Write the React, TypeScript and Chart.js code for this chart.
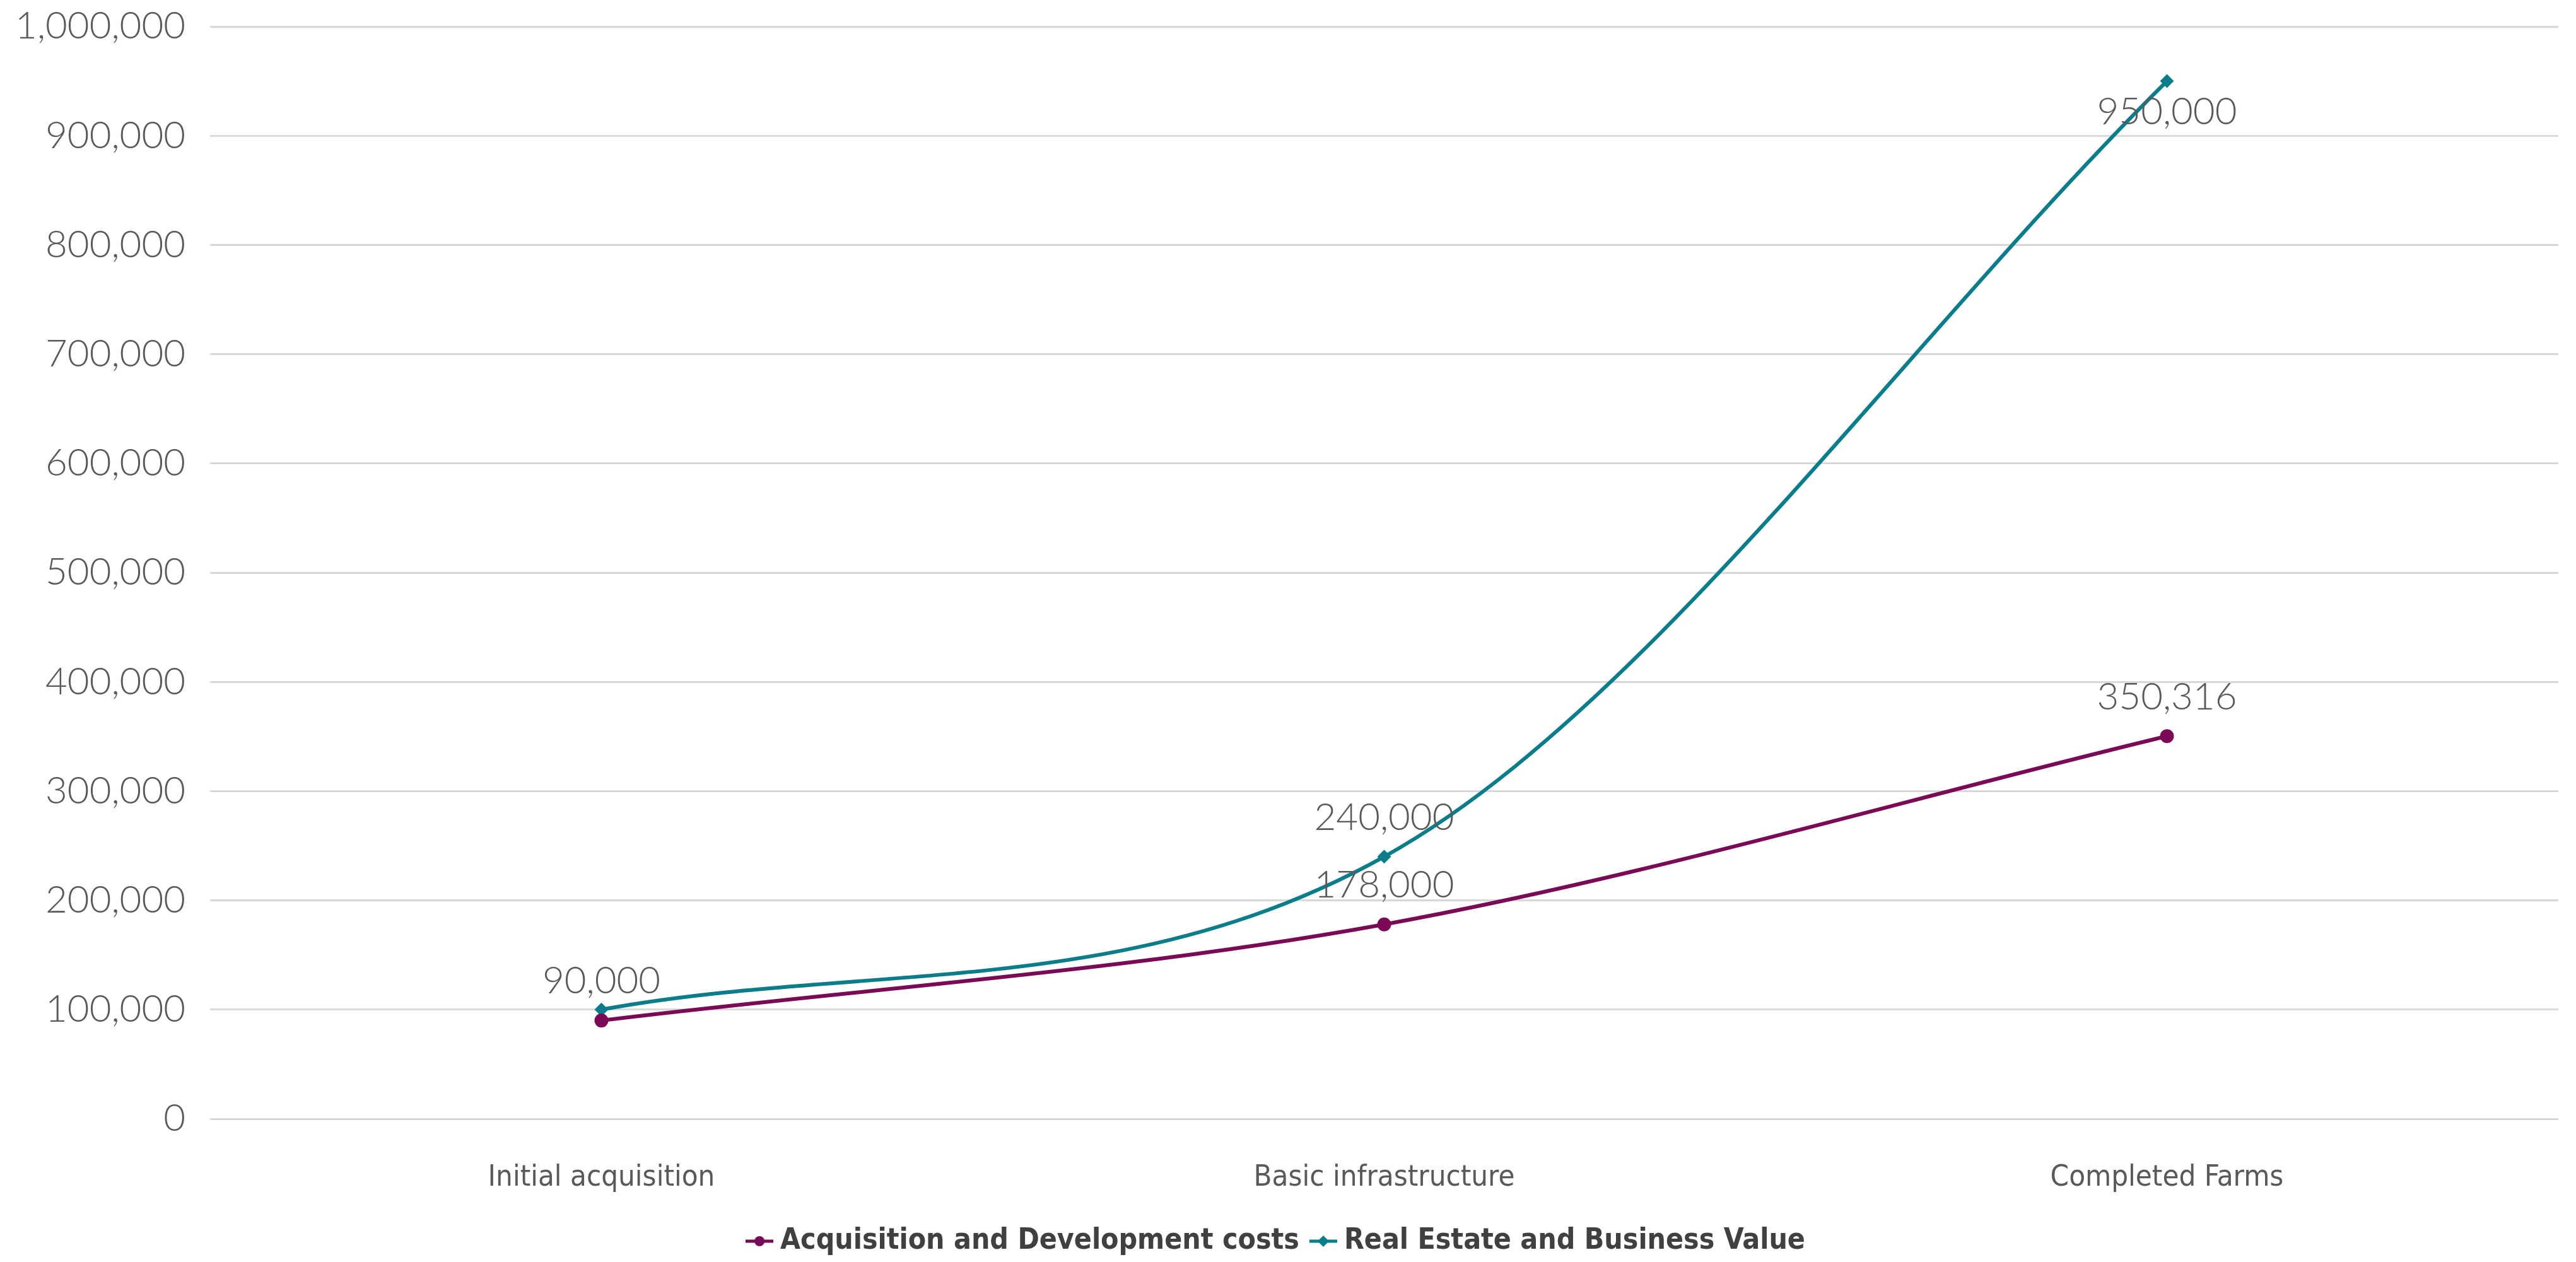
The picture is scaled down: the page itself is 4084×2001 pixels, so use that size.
import React, { useEffect, useRef } from "react";
import { Chart, registerables } from "chart.js";

Chart.register(...registerables);

const categories = ["Initial acquisition", "Basic infrastructure", "Completed Farms"];
const costSeriesName = "Acquisition and Development costs";
const valueSeriesName = "Real Estate and Business Value";
const costValues = [90000, 178000, 350316];
const valueValues = [100000, 240000, 950000];
const yTicks = [0, 100000, 200000, 300000, 400000, 500000, 600000, 700000, 800000, 900000, 1000000];
// data label placement per point
const costLabelPos = ["above", "above", "above"];
const valueLabelPos = ["none", "above", "below"];

const PURPLE = "#7A0A55";
const TEAL = "#0B7D8A";
const LABEL_GRAY = "#595959";
const NUM_FONT = "Lato, 'Open Sans', sans-serif";
const NARROW_FONT = "'Liberation Sans Narrow', 'DejaVu Sans Condensed', sans-serif";

const fmt = (v: number) => v.toLocaleString("en-US");

function makeLegendMarker(color: string, kind: "circle" | "diamond") {
  const c = document.createElement("canvas");
  c.width = 44;
  c.height = 22;
  const ctx = c.getContext("2d")!;
  ctx.strokeStyle = color;
  ctx.lineWidth = 5;
  ctx.beginPath();
  ctx.moveTo(0, 11);
  ctx.lineTo(44, 11);
  ctx.stroke();
  ctx.fillStyle = color;
  ctx.beginPath();
  if (kind === "circle") {
    ctx.arc(22, 11, 8, 0, Math.PI * 2);
  } else {
    ctx.moveTo(22, 2);
    ctx.lineTo(31, 11);
    ctx.lineTo(22, 20);
    ctx.lineTo(13, 11);
    ctx.closePath();
  }
  ctx.fill();
  return c;
}

export default function App() {
  const ref = useRef<HTMLCanvasElement | null>(null);

  useEffect(() => {
    document.body.style.margin = "0";
    const canvas = ref.current!;
    const labelPositions = [costLabelPos, valueLabelPos];

    const dataLabelPlugin = {
      id: "dataLabels",
      afterDatasetsDraw(chart: any) {
        const ctx = chart.ctx;
        ctx.save();
        ctx.font = `300 60px ${NUM_FONT}`;
        ctx.fillStyle = LABEL_GRAY;
        ctx.textAlign = "center";
        ctx.textBaseline = "middle";
        chart.data.datasets.forEach((ds: any, di: number) => {
          const meta = chart.getDatasetMeta(di);
          meta.data.forEach((pt: any, i: number) => {
            const pos = labelPositions[di][i];
            if (pos === "none") return;
            const dy = pos === "above" ? -62 : 49;
            ctx.fillText(fmt(ds.data[i]), pt.x, pt.y + dy);
          });
        });
        ctx.restore();
      },
    };

    const markers = [makeLegendMarker(PURPLE, "circle"), makeLegendMarker(TEAL, "diamond")];

    const chart = new Chart(canvas, {
      type: "line",
      data: {
        labels: categories,
        datasets: [
          {
            label: costSeriesName,
            data: costValues,
            borderColor: PURPLE,
            backgroundColor: PURPLE,
            borderWidth: 6,
            pointStyle: "circle",
            pointRadius: 11,
            pointBorderWidth: 0,
            cubicInterpolationMode: "monotone",
          },
          {
            label: valueSeriesName,
            data: valueValues,
            borderColor: TEAL,
            backgroundColor: TEAL,
            borderWidth: 6,
            pointStyle: "rectRot",
            pointRadius: 11,
            pointBorderWidth: 0,
            cubicInterpolationMode: "monotone",
          },
        ],
      },
      options: {
        responsive: false,
        maintainAspectRatio: false,
        animation: false,
        devicePixelRatio: 1,
        layout: { padding: { top: 42, right: 28, left: 0, bottom: 0 } },
        plugins: {
          tooltip: { enabled: false },
          legend: {
            display: true,
            position: "bottom",
            labels: {
              usePointStyle: true,
              pointStyleWidth: 20,
              padding: 28,
              color: "#404040",
              font: { family: NARROW_FONT, size: 46, weight: "bold" },
              generateLabels: (ch: any) =>
                ch.data.datasets.map((ds: any, i: number) => ({
                  text: ds.label,
                  fillStyle: ds.borderColor,
                  strokeStyle: ds.borderColor,
                  lineWidth: 0,
                  pointStyle: markers[i],
                  fontColor: "#404040",
                  hidden: false,
                  datasetIndex: i,
                })),
            },
          },
        },
        scales: {
          x: {
            offset: true,
            grid: { display: false, drawTicks: false },
            border: { display: false },
            ticks: {
              color: LABEL_GRAY,
              padding: 66,
              font: { family: NARROW_FONT, size: 47 },
            },
            afterFit: (s: any) => {
              s.height = 143;
            },
          },
          y: {
            min: 0,
            max: 1000000,
            afterBuildTicks: (s: any) => {
              s.ticks = yTicks.map((v) => ({ value: v }));
            },
            grid: { color: "#D9D9D9", lineWidth: 3, drawTicks: false },
            border: { display: false },
            ticks: {
              color: LABEL_GRAY,
              padding: 39,
              font: { family: NUM_FONT, size: 60, weight: 300 },
              callback: (v: any) => fmt(Number(v)),
            },
            afterFit: (s: any) => {
              s.width = 333;
              s.paddingTop = 0;
              s.paddingBottom = 0;
            },
          },
        },
      },
      plugins: [dataLabelPlugin],
    });
    return () => chart.destroy();
  }, []);

  return (
    <div style={{ width: 4084, height: 2001 }}>
      <canvas ref={ref} width={4084} height={2001} style={{ display: "block" }} />
    </div>
  );
}
